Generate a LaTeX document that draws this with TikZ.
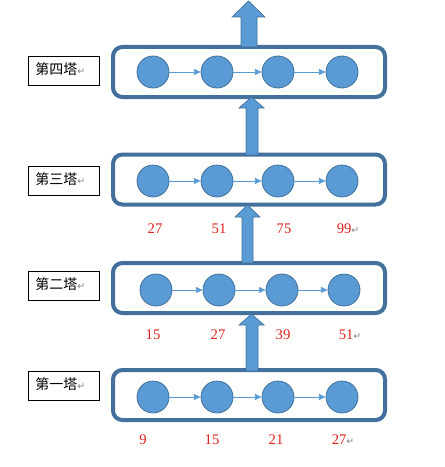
\documentclass[tikz,border=0pt]{standalone}
\usepackage{fontspec}
\setmainfont{Liberation Serif}
\newfontfamily\cjk{Noto Sans CJK SC}
\newfontfamily\dejavu{DejaVu Sans}
\usetikzlibrary{arrows.meta}
\definecolor{cfill}{HTML}{5B9BD5}
\definecolor{cedge}{HTML}{41719C}
\definecolor{boxedge}{HTML}{44709E}
\definecolor{numred}{HTML}{E0201C}
\newcommand{\pmark}{{\dejavu\fontsize{7pt}{7pt}\selectfont\color{gray}↵}}
\begin{document}
\begin{tikzpicture}[x=0.75pt,y=-0.75pt,
  dot/.style={circle, fill=cfill, draw=cedge, line width=0.6pt, minimum size=24pt, inner sep=0pt},
  layer/.style={draw=boxedge, line width=3pt, rounded corners=7pt, minimum width=204pt, minimum height=37.5pt, inner sep=0pt},
  tag/.style={draw=black, line width=0.6pt, minimum width=53.25pt, minimum height=21.75pt, inner sep=0pt},
  tagtext/.style={anchor=west, inner sep=0pt, font=\cjk\fontsize{10.5pt}{12pt}\selectfont},
  num/.style={text=numred, inner sep=0pt, font=\fontsize{11pt}{12pt}\selectfont},
  link/.style={draw=cfill, line width=0.6pt, -{Triangle[length=5pt,width=4.5pt]}},
  big/.style={fill=cfill, draw=cedge, line width=0.5pt}
]
\useasboundingbox (0,0) rectangle (444,467);

% layer boxes
\node[layer] (L4) at (249,72) {};
\node[layer] (L3) at (249,179.5) {};
\node[layer] (L2) at (249,288) {};
\node[layer] (L1) at (249,395) {};

% tags
\node[tag] (T4) at (63.5,70.5) {};
\node[tagtext] (t4) at (35,69) {第四塔\pmark};
\node[tag] (T3) at (63.5,180.5) {};
\node[tagtext] (t3) at (35,179) {第三塔\pmark};
\node[tag] (T2) at (63.5,285.5) {};
\node[tagtext] (t2) at (35,284) {第二塔\pmark};
\node[tag] (T1) at (63.5,385.5) {};
\node[tagtext] (t1) at (35,384) {第一塔\pmark};

% circles
\foreach \r/\y/\xa/\xb/\xc/\xd in {4/72/153/217/278/342, 3/181/153/217/278/342, 2/290/156/219/282/344, 1/397/153/217/278/342}{
  \node[dot] (c\r a) at (\xa,\y) {};
  \node[dot] (c\r b) at (\xb,\y) {};
  \node[dot] (c\r c) at (\xc,\y) {};
  \node[dot] (c\r d) at (\xd,\y) {};
  \draw[link] (c\r a) -- (c\r b);
  \draw[link] (c\r b) -- (c\r c);
  \draw[link] (c\r c) -- (c\r d);
}

% numbers
\node[num] (n3a) at (155,229) {27};
\node[num] (n3b) at (219,229) {51};
\node[num] (n3c) at (284,229) {75};
\node[num] (n3d) at (348,229) {99\pmark};
\node[num] (n2a) at (153,335) {15};
\node[num] (n2b) at (218,335) {27};
\node[num] (n2c) at (283,335) {39};
\node[num] (n2d) at (350,335) {51\pmark};
\node[num] (n1a) at (143,440) {9};
\node[num] (n1b) at (212,440) {15};
\node[num] (n1c) at (276,440) {21};
\node[num] (n1d) at (343,440) {27\pmark};

% big arrows
\draw[big] (246,371) -- (246,325) -- (239,325) -- (251.5,314) -- (264,325) -- (258,325) -- (258,371) -- cycle;
\draw[big] (242,263) -- (242,217) -- (235,217) -- (247.5,205) -- (260,217) -- (253,217) -- (253,263) -- cycle;
\draw[big] (246,155) -- (246,108) -- (239,108) -- (251.5,97) -- (264,108) -- (258,108) -- (258,155) -- cycle;
\draw[big] (241,47) -- (241,17) -- (232,17) -- (248.5,1) -- (265,17) -- (257,17) -- (257,47) -- cycle;
\end{tikzpicture}
\end{document}
